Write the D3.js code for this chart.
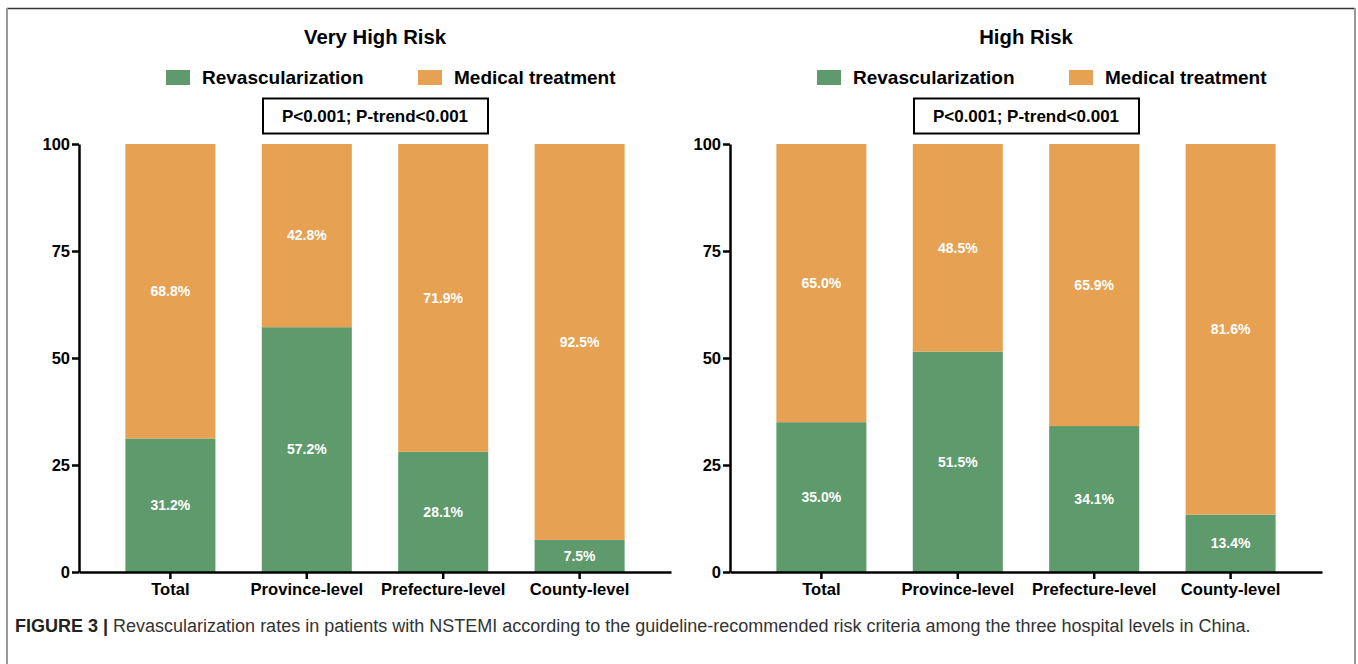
<html lang="en-US">
<head>
  <script src="https://d3js.org/d3.v7.min.js"></script>
  <style>
    body { margin: 0; background: #fff; }
    text { font-family: "Liberation Sans", Arial, sans-serif; }
  </style>
</head>
<body>
  <svg id="fig" width="1358" height="664"></svg>
<script>
// values
var categories = ["Total", "Province-level", "Prefecture-level", "County-level"];
var veryHighRevasc = [31.2, 57.2, 28.1, 7.5];
var veryHighMedical = [68.8, 42.8, 71.9, 92.5];
var highRevasc = [35.0, 51.5, 34.1, 13.4];
var highMedical = [65.0, 48.5, 65.9, 81.6];
var yTicks = [0, 25, 50, 75, 100];
var seriesNames = ["Revascularization", "Medical treatment"];
var pText = "P<0.001; P-trend<0.001";

var green = "#5f9a6c";
var orange = "#e6a152";

var svg = d3.select("#fig");

// outer frame of the figure
svg.append("line").attr("x1", 7).attr("x2", 1355).attr("y1", 8.5).attr("y2", 8.5)
   .attr("stroke", "#333").attr("stroke-width", 1.5);
svg.append("line").attr("x1", 7).attr("x2", 7).attr("y1", 8).attr("y2", 664)
   .attr("stroke", "#999").attr("stroke-width", 2);
svg.append("line").attr("x1", 1355).attr("x2", 1355).attr("y1", 8).attr("y2", 664)
   .attr("stroke", "#999").attr("stroke-width", 2);

var yScale = d3.scaleLinear().domain([0, 100]).range([572, 144]);

function drawPanel(left, right, title, revasc, medical) {
    var g = svg.append("g");
    var xScale = d3.scaleBand().domain(categories).range([left, right]).padding(0.34);
    var mid = (left + right) / 2;

    // title
    g.append("text")
     .attr("x", mid).attr("y", 44)
     .attr("text-anchor", "middle")
     .attr("font-size", "20.3px").attr("font-weight", "bold")
     .text(title);

    // legend
    var legX = [mid - 209, mid + 43];
    var legColors = [green, orange];
    seriesNames.forEach(function(name, i) {
        g.append("rect")
         .attr("x", legX[i]).attr("y", 70)
         .attr("width", 24).attr("height", 15)
         .attr("fill", legColors[i]);
        g.append("text")
         .attr("x", legX[i] + 36).attr("y", 84)
         .attr("font-size", "19px").attr("font-weight", "bold")
         .text(name);
    });

    // p-value box
    g.append("rect")
     .attr("x", mid - 112).attr("y", 98.5)
     .attr("width", 225).attr("height", 35)
     .attr("fill", "none").attr("stroke", "#000").attr("stroke-width", 2);
    g.append("text")
     .attr("x", mid).attr("y", 122)
     .attr("text-anchor", "middle")
     .attr("font-size", "17px").attr("font-weight", "bold")
     .text(pText);

    // stacked bars (percent stacked, each bar fills to 100)
    categories.forEach(function(c, i) {
        var r = revasc[i], m = medical[i];
        g.append("rect")
         .attr("x", xScale(c)).attr("width", xScale.bandwidth())
         .attr("y", yScale(r)).attr("height", yScale(0) - yScale(r))
         .attr("fill", green);
        g.append("rect")
         .attr("x", xScale(c)).attr("width", xScale.bandwidth())
         .attr("y", yScale(100)).attr("height", yScale(r) - yScale(100))
         .attr("fill", orange);
        var cx = xScale(c) + xScale.bandwidth() / 2;
        g.append("text")
         .attr("x", cx).attr("y", yScale(r / 2)).attr("dy", "0.35em")
         .attr("text-anchor", "middle").attr("fill", "#fff")
         .attr("font-size", "14px").attr("font-weight", "bold")
         .text(r.toFixed(1) + "%");
        g.append("text")
         .attr("x", cx).attr("y", yScale((r + 100) / 2)).attr("dy", "0.35em")
         .attr("text-anchor", "middle").attr("fill", "#fff")
         .attr("font-size", "14px").attr("font-weight", "bold")
         .text(m.toFixed(1) + "%");
    });

    // axes
    var yAxis = g.append("g")
     .attr("transform", "translate(" + left + ",0)")
     .call(d3.axisLeft(yScale).tickValues(yTicks).tickSize(7).tickSizeOuter(0).tickPadding(2));
    var xAxis = g.append("g")
     .attr("transform", "translate(0," + yScale(0) + ")")
     .call(d3.axisBottom(xScale).tickSize(7).tickSizeOuter(0).tickPadding(4));
    [yAxis, xAxis].forEach(function(a) {
        a.selectAll("path, line").attr("stroke", "#000").attr("stroke-width", 2.5);
        a.selectAll("text").attr("fill", "#000").attr("font-weight", "bold")
         .attr("font-family", "'Liberation Sans', Arial, sans-serif");
    });
    yAxis.selectAll("text").attr("font-size", "16.5px");
    xAxis.selectAll("text").attr("font-size", "16.6px");
}

drawPanel(79, 671, "Very High Risk", veryHighRevasc, veryHighMedical);
drawPanel(730, 1322, "High Risk", highRevasc, highMedical);

// caption
var cap = svg.append("text")
  .attr("x", 15).attr("y", 632)
  .attr("font-size", "18px").attr("fill", "#333");
cap.append("tspan").attr("font-weight", "bold").attr("fill", "#222").text("FIGURE 3 | ");
cap.append("tspan").text("Revascularization rates in patients with NSTEMI according to the guideline-recommended risk criteria among the three hospital levels in China.");
</script>
</body>
</html>
